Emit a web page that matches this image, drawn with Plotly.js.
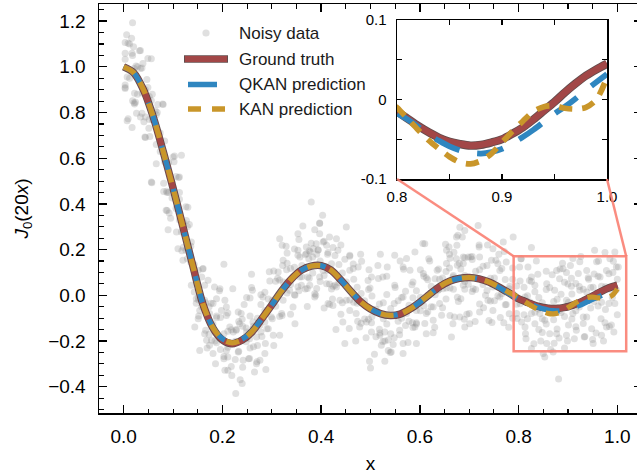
<!DOCTYPE html>
<html>
<head>
<meta charset="utf-8">
<script src="https://cdn.plot.ly/plotly-3.0.1.min.js"></script>
<style>
html,body{margin:0;padding:0;overflow:hidden;background:#fff;}
#chart{width:645px;height:474px;}
</style>
</head>
<body>
<div id="chart"></div>
<script>
// ---------- data ----------
const xGrid = [0,0.02,0.04,0.06,0.08,0.10,0.12,0.14,0.16,0.18,0.20,0.22,0.24,0.26,0.28,0.30,0.32,0.34,0.36,0.38,
  0.40,0.42,0.44,0.46,0.48,0.50,0.52,0.54,0.56,0.58,0.60,0.62,0.64,0.66,0.68,0.70,0.72,0.74,0.76,0.78,
  0.80,0.81,0.82,0.83,0.84,0.85,0.86,0.87,0.88,0.89,0.90,0.91,0.92,0.93,0.94,0.95,0.96,0.97,0.98,0.99,1.00];

const groundTruth = [1.000,0.975,0.900,0.780,0.630,0.470,0.300,0.130,-0.035,-0.140,-0.195,-0.212,-0.196,-0.160,-0.102,-0.042,0.020,0.072,0.110,0.128,
  0.130,0.110,0.067,0.018,-0.028,-0.060,-0.080,-0.088,-0.082,-0.060,-0.030,0.005,0.038,0.062,0.074,0.078,0.072,0.058,0.036,0.011,
  -0.015,-0.024,-0.033,-0.041,-0.048,-0.053,-0.056,-0.058,-0.057,-0.054,-0.050,-0.043,-0.035,-0.025,-0.014,-0.003,0.009,0.020,0.030,0.038,0.045];

const qkanPred = [1.000,0.975,0.900,0.780,0.630,0.470,0.300,0.130,-0.035,-0.138,-0.190,-0.205,-0.192,-0.158,-0.101,-0.042,0.020,0.072,0.110,0.128,
  0.130,0.110,0.067,0.018,-0.028,-0.060,-0.080,-0.088,-0.082,-0.060,-0.030,0.005,0.038,0.062,0.074,0.078,0.072,0.058,0.035,0.009,
  -0.017,-0.025,-0.034,-0.044,-0.052,-0.059,-0.064,-0.067,-0.068,-0.066,-0.062,-0.055,-0.047,-0.038,-0.028,-0.018,-0.009,0.001,0.012,0.022,0.032];

const kanPred = [1.000,0.975,0.900,0.780,0.630,0.470,0.300,0.130,-0.035,-0.139,-0.192,-0.208,-0.194,-0.159,-0.102,-0.042,0.020,0.072,0.110,0.128,
  0.130,0.110,0.067,0.018,-0.028,-0.060,-0.080,-0.088,-0.082,-0.060,-0.030,0.005,0.038,0.062,0.074,0.078,0.072,0.058,0.037,0.013,
  -0.010,-0.024,-0.038,-0.051,-0.062,-0.072,-0.079,-0.081,-0.077,-0.068,-0.054,-0.040,-0.027,-0.015,-0.009,-0.008,-0.011,-0.012,-0.010,0.000,0.028];

const noisyA = [[0.018,1.193],[0.003,1.106],[0.016,1.125],[0.009,1.103],[0.020,1.088],[0.034,1.071],[0.017,1.059],[0.003,1.033],[0.018,1.050],[0.049,1.037],[0.025,1.004],[0.034,0.993],[0.003,0.920],[0.003,0.905],[0.022,0.884],[0.047,0.945],[0.049,0.910],[0.018,0.852],[0.022,0.837],[0.079,0.837],[0.064,0.808],[0.068,0.800],[0.026,0.797],[0.037,0.797],[0.034,0.780],[0.041,0.760],[0.007,0.764],[0.017,0.735],[0.051,0.731],[0.044,0.691],[0.103,0.610],[0.057,0.493],[0.081,0.490],[0.111,0.516],[0.081,0.454],[0.088,0.450],[0.126,0.388],[0.088,0.371],[0.095,0.337],[0.056,1.035],[0.032,1.070],[0.007,0.955],[0.009,0.773],[0.043,0.693],[0.056,0.853],[0.080,0.835],[0.066,0.576],[0.056,0.496],[0.100,0.605],[0.117,0.613],[0.113,0.518],[0.092,0.360],[0.130,0.386],[0.113,0.450],[0.127,0.328],[0.107,0.277]];

const noisyB = [[0.086,0.372],[0.090,0.287],[0.117,0.277],[0.110,0.204],[0.126,0.197],[0.137,0.233],[0.120,0.153],[0.144,0.109],[0.161,0.117],[0.137,0.044],[0.171,0.066],[0.164,0.044],[0.203,0.136],[0.147,-0.015],[0.152,-0.020],[0.154,-0.066],[0.151,-0.102],[0.144,-0.139],[0.184,0.036],[0.195,0.029],[0.221,0.029],[0.205,-0.022],[0.208,-0.051],[0.198,-0.066],[0.181,-0.036],[0.174,-0.080],[0.188,-0.090],[0.164,-0.168],[0.178,-0.197],[0.154,-0.241],[0.174,-0.219],[0.208,-0.088],[0.215,-0.139],[0.232,-0.073],[0.238,-0.080],[0.240,-0.105],[0.259,0.092],[0.259,0.034],[0.249,-0.010],[0.256,-0.012],[0.282,-0.007],[0.296,0.063],[0.304,0.106],[0.316,0.248],[0.321,0.219],[0.331,0.185],[0.323,0.153],[0.353,0.270],[0.355,0.244],[0.380,0.408],[0.403,0.350],[0.397,0.314],[0.387,0.287],[0.370,0.211],[0.357,0.168],[0.394,0.197],[0.411,0.219],[0.370,0.124],[0.360,0.044],[0.387,-0.007],[0.414,-0.036],[0.343,-0.051],[0.347,-0.124],[0.320,-0.080],[0.299,-0.095],[0.316,-0.175],[0.286,-0.066],[0.276,-0.131],[0.262,-0.146],[0.290,-0.146],[0.303,-0.175],[0.286,-0.255],[0.276,-0.284],[0.269,-0.299],[0.288,-0.325],[0.265,-0.336],[0.255,-0.277],[0.242,-0.284],[0.232,-0.248],[0.211,-0.270],[0.208,-0.241],[0.205,-0.328],[0.211,-0.328],[0.240,-0.386],[0.227,-0.430],[0.168,-0.197],[0.185,-0.200],[0.221,-0.211],[0.238,-0.197],[0.255,-0.190],[0.269,-0.182],[0.249,-0.161],[0.280,-0.180],[0.262,-0.117],[0.235,-0.124],[0.228,-0.153],[0.222,-0.160],[0.164,-0.022],[0.188,-0.015],[0.347,0.000],[0.336,0.022],[0.343,0.080],[0.373,0.080],[0.397,0.080],[0.404,0.109],[0.411,0.051],[0.313,0.102],[0.330,0.112],[0.322,0.130],[0.370,0.182],[0.353,0.175],[0.390,0.226],[0.375,0.160]];

const noisyC = [[0.397,0.316],[0.451,0.299],[0.417,0.255],[0.404,0.233],[0.394,0.200],[0.384,0.205],[0.378,0.190],[0.424,0.209],[0.458,0.171],[0.475,0.124],[0.465,0.117],[0.497,0.112],[0.515,0.131],[0.534,0.124],[0.525,0.080],[0.502,0.080],[0.495,0.065],[0.549,0.044],[0.566,0.124],[0.573,0.161],[0.566,-0.007],[0.586,0.058],[0.607,0.095],[0.610,0.226],[0.590,0.190],[0.613,0.077],[0.640,0.070],[0.654,0.197],[0.659,0.211],[0.674,0.255],[0.691,0.284],[0.688,0.168],[0.674,0.160],[0.680,0.140],[0.654,0.139],[0.660,0.120],[0.647,0.029],[0.654,0.032],[0.640,-0.036],[0.667,-0.124],[0.664,-0.182],[0.670,-0.095],[0.627,-0.109],[0.613,-0.168],[0.590,-0.139],[0.585,-0.120],[0.593,-0.125],[0.559,-0.153],[0.566,-0.211],[0.566,-0.255],[0.529,-0.288],[0.536,-0.241],[0.522,-0.219],[0.519,-0.175],[0.519,-0.165],[0.529,-0.200],[0.536,-0.195],[0.546,-0.215],[0.529,-0.160],[0.502,-0.161],[0.498,-0.288],[0.500,-0.318],[0.448,-0.211],[0.478,-0.139],[0.471,-0.080],[0.458,-0.066],[0.438,-0.022],[0.431,0.036],[0.424,0.040],[0.417,0.050],[0.377,0.044],[0.372,0.030],[0.357,0.080],[0.387,0.007],[0.424,-0.044],[0.417,-0.040],[0.444,-0.117],[0.492,-0.117],[0.502,-0.120],[0.573,-0.080],[0.593,-0.066],[0.613,-0.080],[0.627,-0.051],[0.637,0.022],[0.688,0.044],[0.691,0.060],[0.667,0.080],[0.681,-0.095],[0.691,-0.139],[0.660,0.180],[0.688,0.139],[0.458,0.175],[0.549,0.175],[0.606,0.227],[0.675,0.219],[0.677,0.263],[0.681,0.298],[0.434,0.197]];

const noisyD = [[0.718,0.306],[0.789,0.255],[0.826,0.209],[0.748,0.204],[0.769,0.233],[0.691,0.165],[0.706,0.170],[0.721,0.168],[0.745,0.153],[0.762,0.109],[0.775,0.146],[0.802,0.124],[0.819,0.124],[0.877,0.109],[0.884,0.115],[0.910,0.161],[0.954,0.197],[0.995,0.190],[1.002,0.124],[0.978,0.109],[0.965,0.080],[0.938,0.109],[0.921,0.095],[0.897,0.100],[0.883,0.073],[0.900,0.050],[0.907,0.040],[0.857,0.051],[0.833,0.044],[0.826,0.080],[0.813,-0.007],[0.823,-0.029],[0.796,-0.080],[0.806,-0.117],[0.813,-0.139],[0.833,-0.124],[0.853,-0.109],[0.863,-0.168],[0.877,-0.168],[0.897,-0.175],[0.917,-0.153],[0.948,-0.146],[0.951,-0.211],[0.968,-0.175],[0.978,-0.139],[0.975,-0.120],[0.988,-0.130],[0.995,-0.036],[0.990,-0.010],[0.978,0.029],[0.951,0.035],[0.924,0.022],[0.897,-0.022],[0.883,-0.066],[0.910,-0.080],[0.931,-0.095],[0.843,-0.080],[0.840,-0.060],[0.857,-0.211],[0.853,-0.270],[0.850,-0.255],[0.870,-0.248],[0.826,-0.233],[0.881,-0.366],[0.701,-0.124],[0.690,-0.105],[0.721,-0.073],[0.748,-0.066],[0.775,-0.040],[0.762,-0.007],[0.738,-0.022],[0.733,0.000],[0.708,0.029],[0.748,0.036],[0.782,0.040],[0.789,0.007]];

const noisyE = [[0.003,1.06],[0.003,0.91],[0.012,0.95],[0.012,1.10],[0.021,0.993],[0.021,0.843],[0.028,0.88],[0.028,1.00],[0.037,0.995],[0.037,0.885],[0.044,0.78],[0.044,0.90],[0.052,0.87],[0.052,0.77],[0.058,0.77],[0.058,0.88],[0.066,0.79],[0.066,0.66],[0.074,0.63],[0.074,0.71],[0.083,0.675],[0.083,0.585],[0.091,0.45],[0.091,0.58],[0.098,0.496],[0.098,0.426],[0.106,0.52],[0.106,0.38],[0.113,0.33],[0.113,0.42],[0.121,0.32],[0.121,0.21],[0.129,0.16],[0.129,0.30],[0.136,0.215],[0.136,0.145],[0.143,0.015],[0.143,0.135],[0.151,0.11],[0.151,-0.01],[0.158,-0.05],[0.158,0.08],[0.166,-0.033],[0.166,-0.153],[0.173,-0.17],[0.173,-0.05],[0.181,-0.125],[0.181,-0.255],[0.188,-0.208],[0.188,-0.098],[0.196,-0.097],[0.196,-0.237],[0.203,-0.278],[0.203,-0.168],[0.211,-0.157],[0.211,-0.227],[0.218,-0.311],[0.218,-0.151],[0.226,-0.201],[0.226,-0.281],[0.233,-0.245],[0.233,-0.115],[0.241,-0.135],[0.241,-0.315],[0.248,-0.203],[0.248,-0.143],[0.256,-0.09],[0.256,-0.23],[0.263,-0.225],[0.263,-0.135],[0.271,-0.10],[0.271,-0.22],[0.278,-0.16],[0.278,-0.04],[0.286,0.013],[0.286,-0.117],[0.293,-0.146],[0.293,-0.016],[0.301,-0.022],[0.301,-0.102],[0.308,-0.048],[0.308,0.062],[0.316,0.067],[0.316,-0.093],[0.323,-0.022],[0.323,0.058],[0.331,0.14],[0.331,0.01],[0.338,0.047],[0.338,0.117],[0.346,0.123],[0.346,0.003],[0.353,0.037],[0.353,0.197],[0.361,0.131],[0.361,0.081],[0.368,0.028],[0.368,0.178],[0.376,0.195],[0.376,0.075],[0.383,0.098],[0.383,0.168],[0.391,0.18],[0.391,0.03],[0.398,0.06],[0.398,0.15],[0.406,0.237],[0.406,0.087],[0.413,0.11],[0.413,0.18],[0.421,0.138],[0.421,0.028],[0.428,0.044],[0.428,0.174],[0.436,0.135],[0.436,0.055],[0.443,-0.032],[0.443,0.098],[0.451,0.058],[0.451,-0.022],[0.458,-0.02],[0.458,0.11],[0.466,0.07],[0.466,-0.03],[0.473,-0.035],[0.473,0.035],[0.481,0.008],[0.481,-0.122],[0.488,-0.104],[0.488,-0.024],[0.496,0.025],[0.496,-0.105],[0.503,-0.093],[0.503,-0.003],[0.511,-0.061],[0.511,-0.181],[0.518,-0.148],[0.518,-0.038],[0.526,-0.033],[0.526,-0.103],[0.533,-0.126],[0.533,0.004],[0.541,-0.058],[0.541,-0.168],[0.548,-0.186],[0.548,-0.036],[0.556,-0.024],[0.556,-0.114],[0.563,-0.10],[0.563,-0.01],[0.571,0.018],[0.571,-0.132],[0.578,-0.113],[0.578,-0.043],[0.586,-0.011],[0.586,-0.141],[0.593,-0.12],[0.593,0.02],[0.601,-0.008],[0.601,-0.068],[0.608,-0.046],[0.608,0.084],[0.616,0.068],[0.616,-0.072],[0.623,-0.05],[0.623,0.04],[0.631,0.073],[0.631,0.003],[0.638,0.025],[0.638,0.115],[0.646,0.076],[0.646,-0.054],[0.653,-0.016],[0.653,0.104],[0.661,0.162],[0.661,0.032],[0.668,0.027],[0.668,0.087],[0.676,0.132],[0.676,-0.008],[0.683,-0.015],[0.683,0.115],[0.691,0.087],[0.691,0.027],[0.698,0.048],[0.698,0.168],[0.706,0.157],[0.706,0.017],[0.713,0.025],[0.713,0.105],[0.721,0.112],[0.721,-0.038],[0.728,0.047],[0.728,0.127],[0.736,0.131],[0.736,0.021],[0.743,-0.025],[0.743,0.075],[0.751,0.076],[0.751,-0.024],[0.758,-0.002],[0.758,0.138],[0.766,0.117],[0.766,0.007],[0.773,-0.041],[0.773,0.069],[0.781,0.029],[0.781,-0.081],[0.788,-0.10],[0.788,0.07],[0.796,0.041],[0.796,-0.039],[0.803,-0.037],[0.803,0.063],[0.811,0.035],[0.811,-0.085],[0.818,-0.102],[0.818,-0.002],[0.826,0.061],[0.826,-0.079],[0.833,-0.074],[0.833,0.016],[0.841,-0.01],[0.841,-0.15],[0.848,-0.103],[0.848,-0.033],[0.856,0.025],[0.856,-0.125],[0.863,-0.066],[0.863,0.034],[0.871,-0.027],[0.871,-0.107],[0.878,-0.147],[0.878,-0.017],[0.886,0.005],[0.886,-0.075],[0.893,-0.093],[0.893,0.057],[0.901,-0.03],[0.901,-0.13],[0.908,-0.104],[0.908,0.006],[0.916,0.052],[0.916,-0.068],[0.923,-0.051],[0.923,0.039],[0.931,0.027],[0.931,-0.123],[0.938,-0.095],[0.938,0.015],[0.946,0.034],[0.946,-0.056],[0.953,-0.027],[0.953,0.093],[0.961,0.083],[0.961,-0.047],[0.968,-0.03],[0.968,0.04],[0.976,0.038],[0.976,-0.062],[0.983,-0.036],[0.983,0.094],[0.991,0.10],[0.991,0.01],[0.998,0.024],[0.998,0.124]];

const noisyF = [[0.805,0.160],[0.815,-0.190],[0.836,0.150],[0.845,-0.200],[0.868,0.090],[0.872,-0.210],[0.889,0.140],[0.893,-0.230],[0.905,0.130],[0.913,-0.190],[0.926,0.170],[0.934,-0.180],[0.942,0.070],[0.957,-0.165],[0.962,0.150],[0.972,-0.200],[0.985,0.160],[0.993,-0.160],[1.000,0.070],[0.560,0.150],[0.580,0.110],[0.620,0.150],[0.630,-0.140],[0.700,-0.080],[0.720,0.220],[0.740,-0.110],[0.760,0.180],[0.770,-0.120],[0.520,0.180],[0.540,-0.250],[0.480,0.180],[0.470,-0.200],[0.440,0.220],[0.430,-0.150]];

const noisyG = [[0.006,1.14],[0.024,0.845],[0.039,1.015],[0.053,0.695],[0.069,0.835],[0.087,0.455],[0.102,0.585],[0.118,0.195],[0.133,0.31],[0.147,-0.035],[0.152,-0.09],[0.160,0.115],[0.169,-0.23],[0.177,-0.035],[0.186,-0.30],[0.194,0.02],[0.203,-0.268],[0.211,-0.077],[0.219,-0.351],[0.228,-0.15],[0.236,-0.37],[0.244,-0.04],[0.253,-0.278],[0.261,0.022],[0.270,-0.291],[0.278,0.002],[0.287,-0.211],[0.295,0.103],[0.304,-0.22],[0.312,0.075],[0.321,-0.088],[0.329,0.215],[0.338,-0.083],[0.346,0.203],[0.355,0.02],[0.363,0.303],[0.372,-0.049],[0.380,0.228],[0.389,0.0],[0.397,0.27],[0.406,-0.055],[0.414,0.187],[0.423,-0.016],[0.431,0.248],[0.440,-0.083],[0.448,0.158],[0.457,-0.145],[0.465,0.137],[0.474,-0.114],[0.482,0.149],[0.491,-0.186],[0.499,0.032],[0.508,-0.258],[0.516,0.074],[0.525,-0.202],[0.533,0.084],[0.542,-0.248],[0.550,0.034],[0.559,-0.173],[0.567,0.114],[0.576,-0.206],[0.584,0.046],[0.593,-0.211],[0.601,0.112],[0.610,-0.123],[0.618,0.16],[0.627,-0.164],[0.635,0.11],[0.644,-0.087],[0.652,0.223],[0.661,-0.088],[0.669,0.188],[0.678,-0.027],[0.686,0.255],[0.695,-0.083],[0.703,0.168],[0.712,-0.115],[0.720,0.212],[0.729,-0.054],[0.737,0.22],[0.746,-0.119],[0.754,0.153],[0.763,-0.097],[0.771,0.192],[0.780,-0.14],[0.788,0.12],[0.797,-0.101],[0.805,0.16],[0.814,-0.168],[0.822,0.065],[0.831,-0.212],[0.839,0.092],[0.848,-0.163],[0.856,0.105],[0.865,-0.237],[0.873,0.022],[0.882,-0.187],[0.890,0.116],[0.899,-0.2],[0.907,0.075],[0.916,-0.138],[0.924,0.147],[0.933,-0.182],[0.941,0.077],[0.950,-0.193],[0.958,0.147],[0.967,-0.103],[0.975,0.187],[0.984,-0.136],[0.992,0.149],[1.000,-0.085]];

const legendLabels = ['Noisy data','Ground truth','QKAN prediction','KAN prediction'];
const yTicksInset = [-0.1,0,0.1];
const yTickTextInset = ['-0.1','0','0.1'];

// ---------- styling / geometry ----------
const FONT = 'Liberation Sans, Arial, Helvetica, sans-serif';
const C_TRUTH = '#a24747', C_EDGE = 'rgba(70,45,45,0.85)', C_QKAN = '#2f86c0', C_KAN = '#c9962a';
const C_DOT = 'rgba(135,135,135,0.26)', C_BOX = 'rgba(250,128,114,0.9)';
const PLOT = {l:99, t:4, w:543, h:409};
const XR = [-0.05, 1.05], YR = [-0.515, 1.275];
const dx = px => XR[0] + (px - PLOT.l) / PLOT.w * (XR[1] - XR[0]);
const dy = py => YR[1] - (py - PLOT.t) / PLOT.h * (YR[1] - YR[0]);
const inset = {x0:397, x1:607, y0:20, y1:179};

const noisy = [].concat(noisyA, noisyB, noisyC, noisyD, noisyE, noisyF, noisyG);

function curveTraces(xa, ya, s) {
  return [
    {x:xGrid, y:groundTruth, xaxis:xa, yaxis:ya, mode:'lines', line:{color:C_EDGE, width:7.5*s, shape:'spline', smoothing:0.8}, hoverinfo:'skip'},
    {x:xGrid, y:groundTruth, xaxis:xa, yaxis:ya, mode:'lines', line:{color:C_TRUTH, width:6*s, shape:'spline', smoothing:0.8}, name:legendLabels[1]},
    {x:xGrid, y:qkanPred, xaxis:xa, yaxis:ya, mode:'lines', line:{color:C_QKAN, width:5.2*s, dash:'27px,18px', shape:'spline', smoothing:0.8}, name:legendLabels[2]},
    {x:xGrid, y:kanPred, xaxis:xa, yaxis:ya, mode:'lines', line:{color:C_KAN, width:5.2*s, dash:'13px,10px', shape:'spline', smoothing:0.8}, name:legendLabels[3]}
  ];
}

const traces = [
  {x:noisy.map(p=>p[0]), y:noisy.map(p=>p[1]), mode:'markers', type:'scatter',
   marker:{size:7, color:C_DOT, line:{width:0}}, name:legendLabels[0], xaxis:'x', yaxis:'y'}
].concat(curveTraces('x','y',1), curveTraces('x2','y2',1.1));

// legend (drawn as shapes + text)
const rows = [33, 59, 84.5, 109];
const shapes = [
  {type:'circle', xref:'x', yref:'y', xsizemode:'pixel', ysizemode:'pixel', xanchor:dx(206), yanchor:dy(rows[0]), x0:-3.6, x1:3.6, y0:-3.6, y1:3.6, fillcolor:C_DOT, line:{width:0}},
  {type:'line', xref:'x', yref:'y', x0:dx(184), x1:dx(228), y0:dy(rows[1]), y1:dy(rows[1]), line:{color:C_EDGE, width:7.5}},
  {type:'line', xref:'x', yref:'y', x0:dx(185), x1:dx(227), y0:dy(rows[1]), y1:dy(rows[1]), line:{color:C_TRUTH, width:6}},
  {type:'line', xref:'x', yref:'y', x0:dx(188), x1:dx(225), y0:dy(rows[2]), y1:dy(rows[2]), line:{color:C_QKAN, width:5.5, dash:'29px,18px'}},
  {type:'line', xref:'x', yref:'y', x0:dx(188), x1:dx(225), y0:dy(rows[3]), y1:dy(rows[3]), line:{color:C_KAN, width:5.5, dash:'13px,11px'}},
  // zoom box and connectors
  {type:'rect', xref:'x', yref:'y', x0:0.79, x1:1.018, y0:-0.245, y1:0.171, line:{color:C_BOX, width:2.5}},
  {type:'line', xref:'x', yref:'y', x0:dx(inset.x0), y0:dy(inset.y1), x1:0.79, y1:0.171, line:{color:C_BOX, width:2.5}},
  {type:'line', xref:'x', yref:'y', x0:dx(inset.x1), y0:dy(inset.y1), x1:1.018, y1:0.171, line:{color:C_BOX, width:2.5}}
];
const annotations = legendLabels.map((t,i)=>({
  text:t, xref:'x', yref:'y', x:dx(237), y:dy(rows[i]), xanchor:'left', yanchor:'middle',
  showarrow:false, font:{family:FONT, size:17, color:'#1a1a1a'}
}));

const axisCommon = {
  showline:true, linecolor:'#000', linewidth:1.5, mirror:'ticks', ticks:'inside', tickcolor:'#000',
  showgrid:false, zeroline:false
};

const layout = {
  width:645, height:474,
  margin:{l:PLOT.l, r:645-PLOT.l-PLOT.w, t:PLOT.t, b:474-PLOT.t-PLOT.h},
  paper_bgcolor:'#fff', plot_bgcolor:'#fff', showlegend:false,
  font:{family:FONT, color:'#000'},
  xaxis:Object.assign({}, axisCommon, {
    range:XR, domain:[0,1], dtick:0.2, tick0:0, tickformat:'.1f', ticklen:8, tickwidth:1.3,
    minor:{dtick:0.05, tick0:0, ticks:'inside', ticklen:4.5, tickwidth:1.1, tickcolor:'#000', showgrid:false},
    tickfont:{family:FONT, size:19}, ticklabelstandoff:6,
    title:{text:'x', font:{family:FONT, size:19}, standoff:16}
  }),
  yaxis:Object.assign({}, axisCommon, {
    range:YR, domain:[0,1], dtick:0.2, tick0:0, tickformat:'.1f', ticklen:8, tickwidth:1.3,
    minor:{dtick:0.05, tick0:0, ticks:'inside', ticklen:4.5, tickwidth:1.1, tickcolor:'#000', showgrid:false},
    tickfont:{family:FONT, size:19}, ticklabelstandoff:8,
    title:{text:'<i>J</i><sub>0</sub>(20<i>x</i>)', font:{family:FONT, size:19}, standoff:14}
  }),
  xaxis2:Object.assign({}, axisCommon, {
    anchor:'y2', domain:[(inset.x0-PLOT.l)/PLOT.w, (inset.x1-PLOT.l)/PLOT.w], range:[0.8,1.0],
    dtick:0.1, tick0:0.8, tickformat:'.1f', ticklen:5, tickwidth:1.2,
    minor:{dtick:0.05, tick0:0.8, ticks:'inside', ticklen:5, tickwidth:1.2, tickcolor:'#000', showgrid:false},
    tickfont:{family:FONT, size:15}, ticklabelstandoff:3
  }),
  yaxis2:Object.assign({}, axisCommon, {
    anchor:'x2', domain:[(PLOT.t+PLOT.h-inset.y1)/PLOT.h, (PLOT.t+PLOT.h-inset.y0)/PLOT.h], range:[-0.1,0.1],
    tickmode:'array', tickvals:yTicksInset, ticktext:yTickTextInset, ticklen:5, tickwidth:1.2,
    minor:{tickmode:'linear', dtick:0.05, tick0:0, ticks:'inside', ticklen:5, tickwidth:1.2, tickcolor:'#000', showgrid:false},
    tickfont:{family:FONT, size:15}, ticklabelstandoff:6
  }),
  shapes:shapes, annotations:annotations
};

Plotly.newPlot('chart', traces, layout, {displayModeBar:false, staticPlot:true});
</script>
</body>
</html>
